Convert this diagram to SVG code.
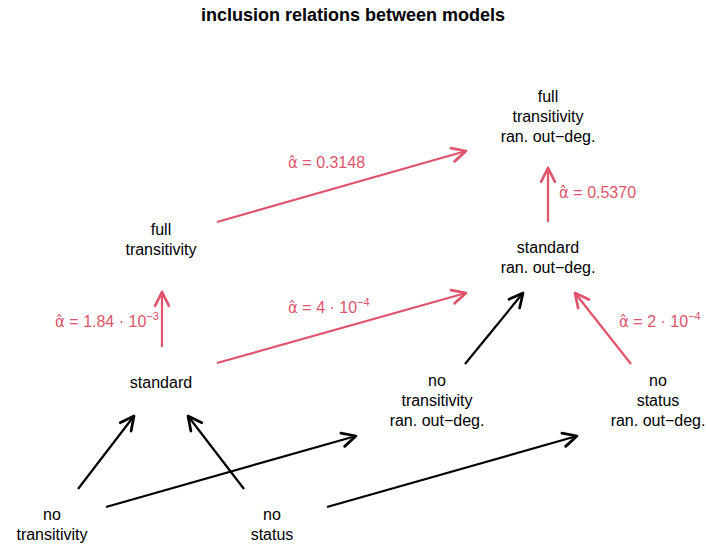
<svg xmlns="http://www.w3.org/2000/svg" width="706" height="550" viewBox="0 0 706 550">
<style>
text{font-family:"Liberation Sans",Arial,sans-serif;}
.t{font-size:18px;font-weight:bold;fill:#000;text-anchor:middle;}
.n{font-size:16px;fill:#000;text-anchor:middle;}
.l{font-size:16px;fill:#DF536B;}
.a{font-family:"DejaVu Sans",sans-serif;font-size:15px;}
.s{font-size:11px;}
.r{stroke:#DF536B;stroke-width:2.2;fill:none;marker-end:url(#ar);}
.b{stroke:#000;stroke-width:2.2;fill:none;marker-end:url(#ab);}
</style>
<defs>
<marker id="ar" markerUnits="userSpaceOnUse" markerWidth="20" markerHeight="20" viewBox="-12 -8 14 16" refX="0" refY="0" orient="auto" overflow="visible">
<path d="M-11,-5.5 L0,0 L-11,5.5" fill="none" stroke="#DF536B" stroke-width="2.2" stroke-linecap="round" stroke-linejoin="round"/>
</marker>
<marker id="ab" markerUnits="userSpaceOnUse" markerWidth="20" markerHeight="20" viewBox="-12 -8 14 16" refX="0" refY="0" orient="auto" overflow="visible">
<path d="M-11,-5.5 L0,0 L-11,5.5" fill="none" stroke="#000" stroke-width="2.2" stroke-linecap="round" stroke-linejoin="round"/>
</marker>
</defs>
<rect width="706" height="550" fill="#fff"/>
<text class="t" x="353" y="21">inclusion relations between models</text>

<g id="connectors">
<line class="r" x1="217" y1="222" x2="466" y2="151"/>
<line class="r" x1="162" y1="347" x2="162" y2="292"/>
<line class="r" x1="217" y1="363" x2="466" y2="293"/>
<line class="r" x1="548" y1="222" x2="548" y2="168"/>
<line class="r" x1="631" y1="364" x2="575" y2="293"/>
<line class="b" x1="465" y1="364" x2="523" y2="293"/>
<line class="b" x1="78" y1="489" x2="134" y2="416"/>
<line class="b" x1="244" y1="489" x2="188" y2="416"/>
<line class="b" x1="106" y1="507" x2="356" y2="436"/>
<line class="b" x1="327" y1="507" x2="577" y2="436"/>
</g>

<g id="labels">
<text id="lab-0-3148" class="l" x="288" y="168"><tspan class="a">α̂</tspan> = 0.3148</text>
<text id="lab-0-5370" class="l" x="559" y="198"><tspan class="a">α̂</tspan> = 0.5370</text>
<text id="lab-4e-4" class="l" x="288" y="313"><tspan class="a">α̂</tspan> = 4 · 10<tspan class="s" dy="-7">−4</tspan></text>
<text id="lab-1-84e-3" class="l" x="55" y="327"><tspan class="a">α̂</tspan> = 1.84 · 10<tspan class="s" dy="-7">−3</tspan></text>
<text id="lab-2e-4" class="l" x="619" y="327"><tspan class="a">α̂</tspan> = 2 · 10<tspan class="s" dy="-7">−4</tspan></text>
</g>

<g id="node-full-trans-rod">
<text class="n" x="548" y="102">full</text>
<text class="n" x="548" y="122">transitivity</text>
<text class="n" x="548" y="142">ran. out−deg.</text>
</g>
<g id="node-standard-rod">
<text class="n" x="548" y="253">standard</text>
<text class="n" x="548" y="273">ran. out−deg.</text>
</g>
<g id="node-full-trans">
<text class="n" x="161" y="235">full</text>
<text class="n" x="161" y="255">transitivity</text>
</g>
<g id="node-standard">
<text class="n" x="161" y="388">standard</text>
</g>
<g id="node-no-trans-rod">
<text class="n" x="437" y="386">no</text>
<text class="n" x="437" y="406">transitivity</text>
<text class="n" x="437" y="426">ran. out−deg.</text>
</g>
<g id="node-no-status-rod">
<text class="n" x="658" y="386">no</text>
<text class="n" x="658" y="406">status</text>
<text class="n" x="658" y="426">ran. out−deg.</text>
</g>
<g id="node-no-trans">
<text class="n" x="52" y="520">no</text>
<text class="n" x="52" y="540">transitivity</text>
</g>
<g id="node-no-status">
<text class="n" x="272" y="520">no</text>
<text class="n" x="272" y="540">status</text>
</g>
</svg>
